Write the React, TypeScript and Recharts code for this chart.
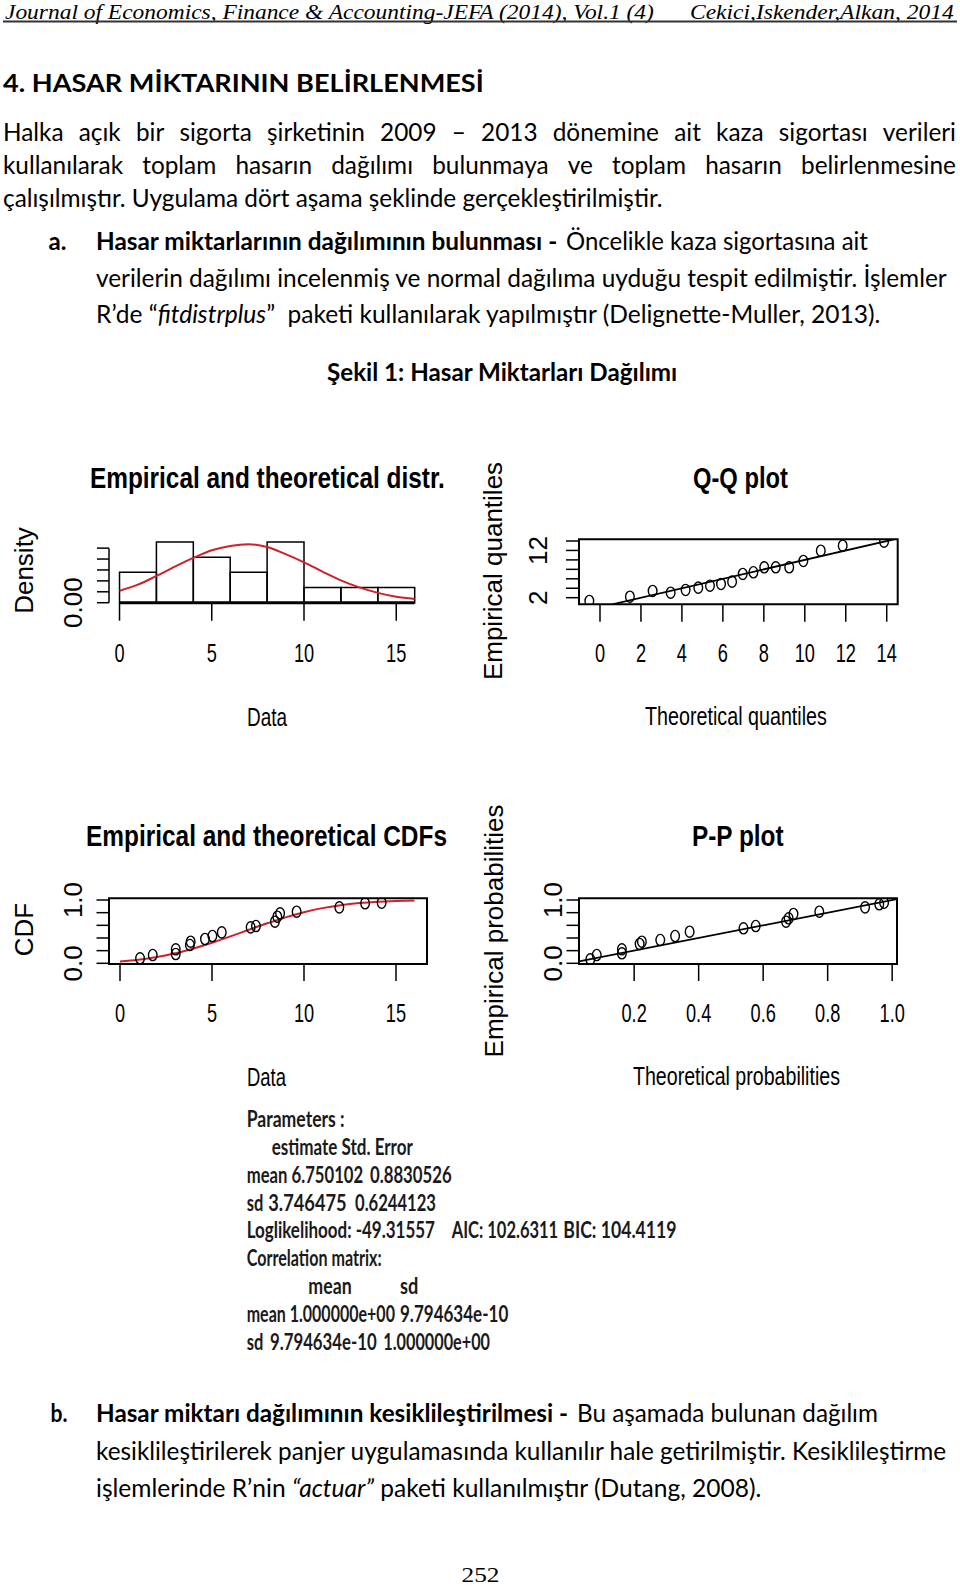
import React from 'react';
import { ComposedChart, XAxis, YAxis, Line, Scatter, ReferenceArea, ReferenceLine } from 'recharts';

// ---------------- DATA ----------------
// Histogram (density per bin of width 2)
const histBinStart = [0, 2, 4, 6, 8, 10, 12, 14];
const histBinEnd = [2, 4, 6, 8, 10, 12, 14, 16];
const histDensity = [0.0556, 0.1111, 0.0833, 0.0556, 0.1111, 0.0278, 0.0278, 0.0278];
// theoretical density curve
const curveX = [0, 1, 2, 3, 4, 5, 6, 7, 8, 9, 10, 11, 12, 13, 14, 15, 16];
const densityY = [0.022, 0.033, 0.049, 0.066, 0.082, 0.096, 0.104, 0.107, 0.102, 0.089, 0.074, 0.057, 0.041, 0.028, 0.018, 0.011, 0.007];
const histXTicks = [0, 5, 10, 15];
const histYTicks = [0, 0.02, 0.04, 0.06, 0.08, 0.1];

// Q-Q plot
const qqTheoretical = [-0.52, 1.46, 2.57, 3.45, 4.18, 4.8, 5.37, 5.91, 6.45, 6.97, 7.49, 8.02, 8.58, 9.24, 9.93, 10.78, 11.85, 13.87];
const qqEmpirical = [1.3, 2.21, 3.42, 3.06, 3.63, 4.12, 4.54, 4.9, 5.39, 7.02, 7.38, 8.43, 8.43, 8.43, 9.77, 11.95, 13.0, 13.85];
const qqLineEnds = [0.6, 14.36];
const qqXTicks = [0, 2, 4, 6, 8, 10, 12, 14];
const qqYTicks = [2, 4, 6, 8, 10, 12, 14];

// CDF plot
const cdfDataX = [1.09, 1.78, 3.03, 3.03, 3.8, 3.84, 4.62, 5.02, 5.53, 7.1, 7.39, 8.42, 8.55, 8.7, 9.6, 11.92, 13.32, 14.22];
const cdfDataY = [0.079, 0.131, 0.147, 0.221, 0.289, 0.341, 0.384, 0.431, 0.489, 0.568, 0.589, 0.657, 0.736, 0.79, 0.815, 0.884, 0.948, 0.957];
const cdfCurveY = [0.03, 0.058, 0.1, 0.158, 0.235, 0.325, 0.425, 0.53, 0.632, 0.726, 0.807, 0.872, 0.919, 0.952, 0.974, 0.986, 0.993];
const cdfXTicks = [0, 5, 10, 15];
const probTicks = [0, 0.2, 0.4, 0.6, 0.8, 1];

// P-P plot
const ppTheoretical = [0.064, 0.084, 0.162, 0.162, 0.217, 0.224, 0.281, 0.327, 0.372, 0.539, 0.577, 0.671, 0.679, 0.694, 0.774, 0.916, 0.96, 0.975];
const ppEmpirical = [0.063, 0.131, 0.221, 0.158, 0.305, 0.341, 0.368, 0.431, 0.499, 0.553, 0.589, 0.657, 0.711, 0.779, 0.815, 0.884, 0.932, 0.957];
const ppLineEnds = [0.029, 1.015];
const ppXTicks = [0.2, 0.4, 0.6, 0.8, 1];

// ---------------- derived tables ----------------
const histBins = histBinStart.map((s, i) => ({ x0: s, x1: histBinEnd[i], d: histDensity[i] }));
const densityCurve = curveX.map((x, i) => ({ x, y: densityY[i] }));
const qqPoints = qqTheoretical.map((x, i) => ({ x, y: qqEmpirical[i] }));
const qqLine = qqLineEnds.map((v) => ({ x: v, y: v }));
const cdfPoints = cdfDataX.map((x, i) => ({ x, y: cdfDataY[i] }));
const cdfCurve = curveX.map((x, i) => ({ x, y: cdfCurveY[i] }));
const ppPoints = ppTheoretical.map((x, i) => ({ x, y: ppEmpirical[i] }));
const ppLine = ppLineEnds.map((v) => ({ x: v, y: v }));

// ---------------- helpers ----------------
const SANS = '"Liberation Sans", Arial, sans-serif';
const BODY = 'Lato, "Open Sans", sans-serif';
const SERIF = '"Liberation Serif", "Times New Roman", serif';
const RED = '#d0202a';

let ctx: CanvasRenderingContext2D | null = null;
function measure(text: string, font: string): number {
  if (!ctx) ctx = document.createElement('canvas').getContext('2d');
  if (!ctx) return text.length * 10;
  ctx.font = font;
  return ctx.measureText(text).width;
}
function fontStr(size: number, family: string, bold?: boolean, italic?: boolean) {
  return `${italic ? 'italic ' : ''}${bold ? 'bold ' : ''}${size}px ${family}`;
}

type FitProps = {
  x: number; y: number; w: number; text: string; size: number; family: string;
  bold?: boolean; italic?: boolean; fill?: string;
};
// text horizontally scaled so that it spans exactly w pixels
function FitText({ x, y, w, text, size, family, bold, italic, fill = '#000' }: FitProps) {
  const nat = measure(text, fontStr(size, family, bold, italic)) || 1;
  const k = w / nat;
  return (
    <text
      transform={`translate(${x},${y}) scale(${k},1)`}
      x={0}
      y={0}
      fontSize={size}
      fontFamily={family}
      fontWeight={bold ? 700 : 400}
      fontStyle={italic ? 'italic' : 'normal'}
      xmlSpace="preserve"
      style={{ whiteSpace: 'pre' }}
      fill={fill}
    >
      {text}
    </text>
  );
}

function JustLine({ x0, x1, y, text, size, ratio }: { x0: number; x1: number; y: number; text: string; size: number; ratio: number }) {
  const words = text.split(' ');
  const f = fontStr(size, BODY);
  const ws = words.map((w) => measure(w, f) * ratio);
  const total = ws.reduce((a, b) => a + b, 0);
  const gap = (x1 - x0 - total) / (words.length - 1);
  let x = x0;
  return (
    <g>
      {words.map((w, i) => {
        const el = <FitText key={i} x={x} y={y} w={ws[i]} text={w} size={size} family={BODY} />;
        x += ws[i] + gap;
        return el;
      })}
    </g>
  );
}

type Run = { t: string; bold?: boolean; italic?: boolean };
function RunLine({ x0, x1, y, runs, size }: { x0: number; x1: number; y: number; runs: Run[]; size: number }) {
  const nat = runs.map((r) => measure(r.t, fontStr(size, BODY, r.bold, r.italic)));
  const total = nat.reduce((a, b) => a + b, 0);
  const k = (x1 - x0) / total;
  let x = x0;
  return (
    <g>
      {runs.map((r, i) => {
        const el = <FitText key={i} x={x} y={y} w={nat[i] * k} text={r.t} size={size} family={BODY} bold={r.bold} italic={r.italic} />;
        x += nat[i] * k;
        return el;
      })}
    </g>
  );
}

function RotText({ x, y, text, size = 26 }: { x: number; y: number; text: string; size?: number }) {
  return (
    <text transform={`translate(${x},${y}) rotate(-90)`} textAnchor="middle" fontSize={size} fontFamily={SANS} fill="#000">
      {text}
    </text>
  );
}

// tick renderers
const makeXTick = (baseline: number, fmt: (v: number) => string) => (p: any) => {
  const label = fmt(p.payload.value);
  const w = measure(label, fontStr(26, SANS)) * 0.7;
  return <FitText x={p.x - w / 2} y={baseline} w={w} text={label} size={26} family={SANS} />;
};
const makeYTick = (bx: number, labels: Record<string, string>) => (p: any) => {
  const key = String(p.payload.value);
  if (!(key in labels)) return <g />;
  return <RotText x={bx} y={p.y} text={labels[key]} />;
};

const Ellipse = (p: any) => <ellipse cx={p.cx} cy={p.cy} rx={4.3} ry={5.6} fill="none" stroke="#000" strokeWidth={1.4} />;
const tickLineStyle = { stroke: '#000', strokeWidth: 1.5 };

// ---------------- charts ----------------
function HistChart() {
  return (
    <ComposedChart width={480} height={300} margin={{ top: 99.4, right: 53.5, bottom: 0, left: 0 }}>
      <XAxis type="number" dataKey="x" domain={[-0.57, 16.64]} allowDataOverflow ticks={histXTicks} interval={0}
        tickSize={18} axisLine={false} tickLine={tickLineStyle} height={137.3} tick={makeXTick(222, (v) => String(v))} />
      <YAxis type="number" dataKey="y" domain={[0, 0.116]} allowDataOverflow ticks={histYTicks} interval={0}
        tickSize={12} axisLine={false} tickLine={tickLineStyle} width={109} tick={makeYTick(82, { '0': '0.00' })} />
      {histBins.map((b, i) => (
        <ReferenceArea key={i} x1={b.x0} x2={b.x1} y1={0} y2={b.d} fill="none" fillOpacity={0} stroke="#000" strokeWidth={1.5} ifOverflow="visible" />
      ))}
      <ReferenceLine segment={[{ x: -0.57, y: 0 }, { x: -0.57, y: 0.1 }]} stroke="#000" strokeWidth={1.5} ifOverflow="visible" />
      <Line data={densityCurve} dataKey="y" type="monotone" stroke={RED} strokeWidth={2} dot={false} isAnimationActive={false} />
      <ReferenceLine segment={[{ x: 0, y: 0 }, { x: 16, y: 0 }]} stroke="#000" strokeWidth={3} ifOverflow="visible" />
    </ComposedChart>
  );
}

function QQChart() {
  return (
    <ComposedChart width={480} height={300} margin={{ top: 99.3, right: 62.3, bottom: 0, left: 0 }}>
      <XAxis type="number" dataKey="x" domain={[-1.025, 14.536]} allowDataOverflow ticks={qqXTicks} interval={0}
        tickSize={17.4} axisLine={false} tickLine={tickLineStyle} height={135.7} tick={makeXTick(222, (v) => String(v))} />
      <YAxis type="number" dataKey="y" domain={[0.6, 14.36]} allowDataOverflow ticks={qqYTicks} interval={0}
        tickSize={13} axisLine={false} tickLine={tickLineStyle} width={99} tick={makeYTick(66.7, { '2': '2', '12': '12' })} />
      <ReferenceArea x1={-1.025} x2={14.536} y1={0.6} y2={14.36} fill="none" fillOpacity={0} stroke="#000" strokeWidth={2} ifOverflow="visible" />
      <Line data={qqLine} dataKey="y" type="linear" stroke="#000" strokeWidth={1.8} dot={false} isAnimationActive={false} />
      <Scatter data={qqPoints} dataKey="y" shape={Ellipse} isAnimationActive={false} />
    </ComposedChart>
  );
}

function CDFChart() {
  return (
    <ComposedChart width={480} height={310} margin={{ top: 108.3, right: 53, bottom: 0, left: 0 }}>
      <XAxis type="number" dataKey="x" domain={[-0.598, 16.685]} allowDataOverflow ticks={cdfXTicks} interval={0}
        tickSize={17} axisLine={false} tickLine={tickLineStyle} height={136} tick={makeXTick(232, (v) => String(v))} />
      <YAxis type="number" dataKey="y" domain={[-0.011, 1.027]} allowDataOverflow ticks={probTicks} interval={0}
        tickSize={12.5} axisLine={false} tickLine={tickLineStyle} width={109} tick={makeYTick(81.7, { '0': '0.0', '1': '1.0' })} />
      <ReferenceArea x1={-0.598} x2={16.685} y1={-0.011} y2={1.027} fill="none" fillOpacity={0} stroke="#000" strokeWidth={2} ifOverflow="visible" />
      <Scatter data={cdfPoints} dataKey="y" shape={Ellipse} isAnimationActive={false} />
      <Line data={cdfCurve} dataKey="y" type="monotone" stroke={RED} strokeWidth={2} dot={false} isAnimationActive={false} />
    </ComposedChart>
  );
}

function PPChart() {
  return (
    <ComposedChart width={480} height={310} margin={{ top: 108.3, right: 63, bottom: 0, left: 0 }}>
      <XAxis type="number" dataKey="x" domain={[0.029, 1.015]} allowDataOverflow ticks={ppXTicks} interval={0}
        tickSize={17} axisLine={false} tickLine={tickLineStyle} height={136} tick={makeXTick(232, (v) => v.toFixed(1))} />
      <YAxis type="number" dataKey="y" domain={[-0.011, 1.027]} allowDataOverflow ticks={probTicks} interval={0}
        tickSize={12.5} axisLine={false} tickLine={tickLineStyle} width={99} tick={makeYTick(81.7, { '0': '0.0', '1': '1.0' })} />
      <ReferenceArea x1={0.029} x2={1.015} y1={-0.011} y2={1.027} fill="none" fillOpacity={0} stroke="#000" strokeWidth={2} ifOverflow="visible" />
      <Line data={ppLine} dataKey="y" type="linear" stroke="#000" strokeWidth={1.8} dot={false} isAnimationActive={false} />
      <Scatter data={ppPoints} dataKey="y" shape={Ellipse} isAnimationActive={false} />
    </ComposedChart>
  );
}

// ---------------- page text ----------------
const paramLines = [
  { y: 1126.7, segs: [{ x: 246.7, w: 98, t: 'Parameters :' }] },
  { y: 1155, segs: [{ x: 271.7, w: 141.3, t: 'estimate Std. Error' }] },
  { y: 1183.3, segs: [{ x: 246.7, w: 116.6, t: 'mean 6.750102' }, { x: 370, w: 81.7, t: '0.8830526' }] },
  { y: 1211, segs: [{ x: 246.7, w: 16.6, t: 'sd' }, { x: 268.3, w: 78.4, t: '3.746475' }, { x: 355, w: 81, t: '0.6244123' }] },
  { y: 1238.3, segs: [{ x: 246.7, w: 188.3, t: 'Loglikelihood: -49.31557' }, { x: 451.7, w: 106.6, t: 'AIC: 102.6311' }, { x: 563.3, w: 113.4, t: 'BIC: 104.4119' }] },
  { y: 1265.7, segs: [{ x: 246.7, w: 135, t: 'Correlation matrix:' }] },
  { y: 1294, segs: [{ x: 308.3, w: 43.4, t: 'mean' }, { x: 400, w: 18.3, t: 'sd' }] },
  { y: 1321.7, segs: [{ x: 246.7, w: 148.3, t: 'mean 1.000000e+00' }, { x: 400, w: 108.3, t: '9.794634e-10' }] },
  { y: 1350, segs: [{ x: 246.7, w: 16.6, t: 'sd' }, { x: 270, w: 106.7, t: '9.794634e-10' }, { x: 383.3, w: 106.7, t: '1.000000e+00' }] },
];

const LINE3 = 'çalışılmıştır. Uygulama dört aşama şeklinde gerçekleştirilmiştir.';

export default function App() {
  const bodySize = 25;
  const ratio = 660 / measure(LINE3, fontStr(bodySize, BODY));
  return (
    <div style={{ position: 'absolute', left: 0, top: 0, width: 960, height: 1587, background: '#fff', overflow: 'hidden' }}>
      <svg width={960} height={1587} style={{ position: 'absolute', left: 0, top: 0 }}>
        {/* running header */}
        <FitText x={5} y={18.5} w={650} text="Journal of Economics, Finance & Accounting-JEFA (2014), Vol.1 (4)" size={21.5} family={SERIF} italic />
        <FitText x={690} y={18.5} w={264} text="Cekici,Iskender,Alkan, 2014" size={21.5} family={SERIF} italic />
        <line x1={3} x2={957} y1={21.5} y2={21.5} stroke="#333" strokeWidth={2} />

        {/* section heading and paragraph */}
        <FitText x={3} y={91.7} w={481} text="4. HASAR MİKTARININ BELİRLENMESİ" size={25.5} family={BODY} bold />
        <JustLine x0={3} x1={956} y={141} size={bodySize} ratio={ratio} text="Halka açık bir sigorta şirketinin 2009 – 2013 dönemine ait kaza sigortası verileri" />
        <JustLine x0={3} x1={956} y={174} size={bodySize} ratio={ratio} text="kullanılarak toplam hasarın dağılımı bulunmaya ve toplam hasarın belirlenmesine" />
        <FitText x={3} y={206.7} w={660} text={LINE3} size={bodySize} family={BODY} />

        {/* item a */}
        <FitText x={48.6} y={250} w={18} text="a." size={bodySize} family={BODY} bold />
        <FitText x={96} y={250} w={462} text="Hasar miktarlarının dağılımının bulunması -" size={bodySize} family={BODY} bold />
        <FitText x={566} y={250} w={302} text="Öncelikle kaza sigortasına ait" size={bodySize} family={BODY} />
        <FitText x={96} y={286.7} w={852} text="verilerin dağılımı incelenmiş ve normal dağılıma uyduğu tespit edilmiştir. İşlemler" size={bodySize} family={BODY} />
        <RunLine x0={96} x1={882} y={323.3} size={bodySize} runs={[
          { t: 'R’de “' },
          { t: 'fitdistrplus', italic: true },
          { t: '”  paketi kullanılarak yapılmıştır (Delignette-Muller, 2013).' },
        ]} />

        {/* figure caption */}
        <FitText x={327} y={381} w={351} text="Şekil 1: Hasar Miktarları Dağılımı" size={bodySize} family={BODY} bold />

        {/* panel titles */}
        <FitText x={90} y={488.3} w={355} text="Empirical and theoretical distr." size={29.5} family={SANS} bold />
        <FitText x={693} y={488.3} w={95} text="Q-Q plot" size={29.5} family={SANS} bold />
        <FitText x={86} y={846} w={361} text="Empirical and theoretical CDFs" size={29.5} family={SANS} bold />
        <FitText x={692} y={846} w={92} text="P-P plot" size={29.5} family={SANS} bold />

        {/* axis titles */}
        <FitText x={247} y={726} w={40} text="Data" size={26} family={SANS} />
        <FitText x={645} y={725} w={182} text="Theoretical quantiles" size={26} family={SANS} />
        <FitText x={247} y={1086} w={39} text="Data" size={26} family={SANS} />
        <FitText x={633} y={1085} w={207} text="Theoretical probabilities" size={26} family={SANS} />
        <RotText x={33} y={570.5} text="Density" />
        <RotText x={501.7} y={571} text="Empirical quantiles" />
        <RotText x={33.3} y={929.5} text="CDF" />
        <RotText x={502.7} y={931} text="Empirical probabilities" />

        {/* fit summary */}
        {paramLines.map((ln, i) => (
          <g key={i}>
            {ln.segs.map((s, j) => (
              <FitText key={j} x={s.x} y={ln.y} w={s.w} text={s.t} size={22} family={BODY} bold fill="#1a1a1a" />
            ))}
          </g>
        ))}

        {/* item b */}
        <FitText x={50.6} y={1422.3} w={17} text="b." size={bodySize} family={BODY} bold />
        <FitText x={96} y={1422.3} w={473} text="Hasar miktarı dağılımının kesiklileştirilmesi -" size={bodySize} family={BODY} bold />
        <FitText x={577} y={1422.3} w={301} text="Bu aşamada bulunan dağılım" size={bodySize} family={BODY} />
        <FitText x={96} y={1460} w={852} text="kesiklileştirilerek panjer uygulamasında kullanılır hale getirilmiştir. Kesiklileştirme" size={bodySize} family={BODY} />
        <RunLine x0={96} x1={762} y={1496.7} size={bodySize} runs={[
          { t: 'işlemlerinde R’nin ' },
          { t: '“actuar”', italic: true },
          { t: ' paketi kullanılmıştır (Dutang, 2008).' },
        ]} />

        {/* page number */}
        <FitText x={461.5} y={1581.5} w={38} text="252" size={22} family={SERIF} />
      </svg>

      <div style={{ position: 'absolute', left: 0, top: 440 }}><HistChart /></div>
      <div style={{ position: 'absolute', left: 480, top: 440 }}><QQChart /></div>
      <div style={{ position: 'absolute', left: 0, top: 790 }}><CDFChart /></div>
      <div style={{ position: 'absolute', left: 480, top: 790 }}><PPChart /></div>
    </div>
  );
}
